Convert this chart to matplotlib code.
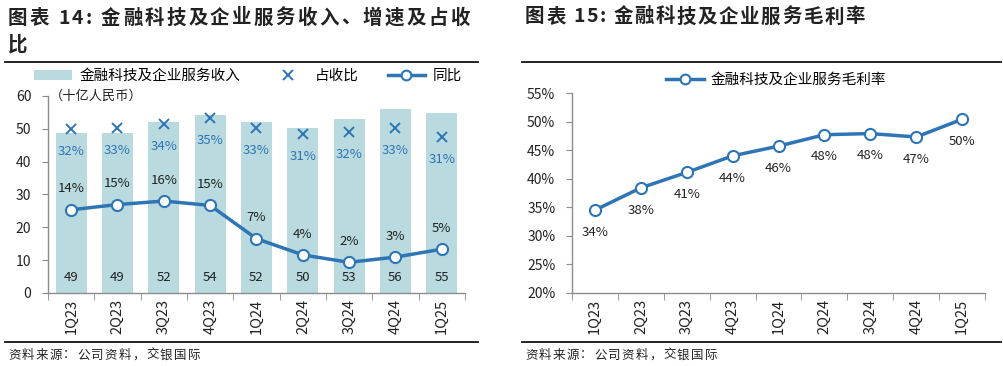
import numpy as np
import matplotlib
matplotlib.use("Agg")
import matplotlib.pyplot as plt
from matplotlib.lines import Line2D
from matplotlib.patches import Patch
from matplotlib.ticker import FuncFormatter
from matplotlib.font_manager import FontProperties

plt.rcParams["font.family"] = ["Noto Sans CJK SC", "DejaVu Sans"]

# data
quarters = ["1Q23", "2Q23", "3Q23", "4Q23", "1Q24", "2Q24", "3Q24", "4Q24", "1Q25"]
revenue = [48.8, 48.7, 52.1, 54.3, 52.2, 50.3, 53.0, 56.1, 54.9]   # 十亿人民币
revenue_labels = ["49", "49", "52", "54", "52", "50", "53", "56", "55"]
share = [0.324, 0.326, 0.336, 0.350, 0.327, 0.313, 0.317, 0.326, 0.306]  # 占收比
yoy = [0.140, 0.152, 0.160, 0.150, 0.074, 0.037, 0.020, 0.032, 0.050]   # 同比
gross_margin = [0.345, 0.384, 0.411, 0.440, 0.457, 0.477, 0.479, 0.473, 0.504]

bar_color = "#b9dade"
blue = "#2e75b6"
dark = "#222222"
spine_gray = "#8c8c8c"

W, H = 1004, 366
fig = plt.figure(figsize=(W / 100, H / 100), dpi=100)
renderer = fig.canvas.get_renderer()
x = np.arange(len(quarters))


def spaced_text(x_px, y_px, s, extra, size, weight="normal"):
    # draw text char by char with some extra letter spacing (px)
    prop = FontProperties(family=["Noto Sans CJK SC", "DejaVu Sans"], size=size, weight=weight)
    bar_w = renderer.get_text_width_height_descent("|", prop, ismath=False)[0]
    for i, ch in enumerate(s):
        if ch == " ":
            continue
        pre = renderer.get_text_width_height_descent(s[:i] + "|", prop, ismath=False)[0] - bar_w
        if i == 0:
            pre = 0
        fig.text((x_px + pre + i * extra) / W, 1 - y_px / H, ch, fontproperties=prop,
                 ha="left", va="center", color=dark)


def style_axis(ax):
    for s in ["top", "right"]:
        ax.spines[s].set_visible(False)
    for s in ["left", "bottom"]:
        ax.spines[s].set_color(spine_gray)
        ax.spines[s].set_linewidth(1.0)
    ax.set_xlim(-0.5, len(quarters) - 0.5)
    ax.set_xticks(x)
    ax.set_xticklabels(quarters, rotation=90, fontsize=10.5, color=dark)
    ax.set_xticks(np.arange(-0.5, len(quarters)), minor=True)
    ax.tick_params(axis="x", which="major", length=0, pad=4)
    ax.tick_params(axis="x", which="minor", length=5, color=spine_gray, direction="out")
    ax.tick_params(axis="y", length=4, color=spine_gray, labelsize=10, labelcolor=dark, pad=8)


# left chart
ax = fig.add_axes([0.0478, 0.1995, 0.4153, 0.5383])
ax.bar(x, revenue, width=0.67, color=bar_color, zorder=1)
ax.set_ylim(0, 60)
ax.set_yticks(range(0, 61, 10))
style_axis(ax)
for i, lab in enumerate(revenue_labels):
    ax.text(x[i], 4.8, lab, ha="center", va="center", fontsize=9.5, color=dark)
ax.text(0.005, 1.0, "（十亿人民币）", transform=ax.transAxes, ha="left", va="center",
        fontsize=9.5, color=dark)

ax2 = ax.twinx()
ax2.set_ylim(-0.05, 0.40)
ax2.axis("off")
ax2.plot(x, yoy, color=blue, linewidth=2.5, marker="o", markersize=8,
         markerfacecolor="white", markeredgecolor=blue, markeredgewidth=1.5, zorder=3)
ax2.plot(x, share, linestyle="none", marker="x", markersize=7.5,
         markeredgewidth=1.4, color=blue, zorder=3)
for i in range(len(quarters)):
    ax2.annotate(f"{yoy[i]:.0%}", (x[i], yoy[i]), xytext=(0, 15), textcoords="offset points",
                 ha="center", va="center", fontsize=9.5, color=dark)
    ax2.annotate(f"{share[i]:.0%}", (x[i], share[i]), xytext=(0, -16), textcoords="offset points",
                 ha="center", va="center", fontsize=9.5, color=blue)

handles = [
    Patch(facecolor=bar_color, edgecolor="none"),
    Line2D([], [], linestyle="none", marker="x", markersize=7, markeredgewidth=1.4, color=blue),
    Line2D([], [], color=blue, linewidth=2.5, marker="o", markersize=7,
           markerfacecolor="white", markeredgewidth=1.5),
]
fig.legend(handles, ["金融科技及企业服务收入", "占收比", "同比"], loc="center",
           bbox_to_anchor=(0.247, 0.792), ncol=3, frameon=False, fontsize=10.5,
           handlelength=2.6, columnspacing=2.0, handletextpad=0.5)

# right chart
ax3 = fig.add_axes([0.5697, 0.1995, 0.4114, 0.5464])
ax3.plot(x, gross_margin, color=blue, linewidth=2.5, marker="o", markersize=8,
         markerfacecolor="white", markeredgecolor=blue, markeredgewidth=1.5, zorder=3)
ax3.set_ylim(0.20, 0.55)
ax3.set_yticks(np.arange(0.20, 0.551, 0.05))
ax3.yaxis.set_major_formatter(FuncFormatter(lambda v, p: f"{v:.0%}"))
style_axis(ax3)
for i in range(len(quarters)):
    ax3.annotate(f"{gross_margin[i]:.0%}", (x[i], gross_margin[i]), xytext=(0, -16),
                 textcoords="offset points", ha="center", va="center", fontsize=9.5, color=dark)
fig.legend([Line2D([], [], color=blue, linewidth=2.5, marker="o", markersize=7,
                   markerfacecolor="white", markeredgewidth=1.5)],
           ["金融科技及企业服务毛利率"], loc="center", bbox_to_anchor=(0.773, 0.781),
           frameon=False, fontsize=10.5, handlelength=2.6, handletextpad=0.5)

# titles, rules and sources
spaced_text(8, 18, "图表 14: 金融科技及企业服务收入、增速及占收", 2.3, 14, "bold")
spaced_text(8, 45, "比", 0, 14, "bold")
spaced_text(525, 17, "图表 15: 金融科技及企业服务毛利率", 1.6, 14, "bold")

for x0, x1 in [(0.005, 0.476), (0.520, 0.997)]:
    fig.add_artist(Line2D([x0, x1], [1 - 62 / H, 1 - 62 / H], color="#111111", linewidth=1.3))
    fig.add_artist(Line2D([x0, x1], [1 - 342 / H, 1 - 342 / H], color="#111111", linewidth=1.3))

spaced_text(8, 355, "资料来源：公司资料，交银国际", 1.3, 9)
spaced_text(525, 355, "资料来源：公司资料，交银国际", 1.3, 9)

fig.savefig("out.png", dpi=100)
